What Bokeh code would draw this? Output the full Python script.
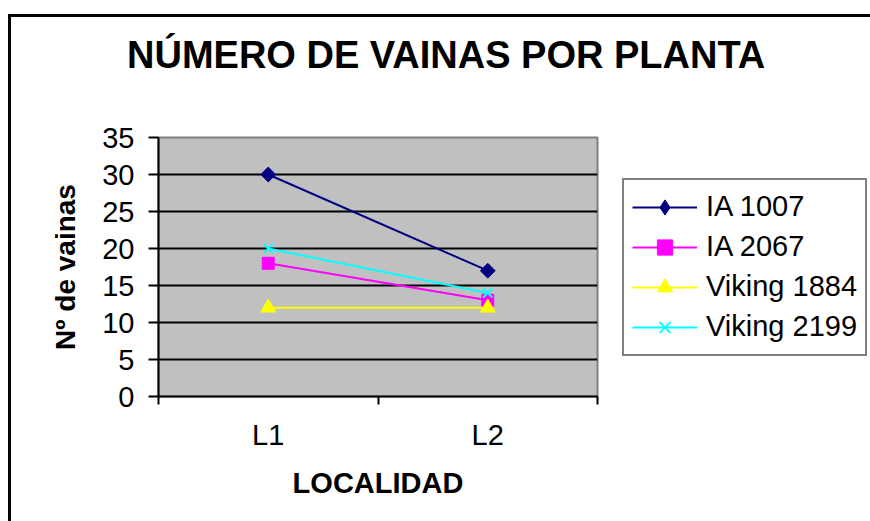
from bokeh.plotting import figure
from bokeh.layouts import column
from bokeh.models import (FixedTicker, Legend, LegendItem, Range1d, ColumnDataSource,
                          InlineStyleSheet, Div)
from bokeh.embed import file_html
from bokeh.resources import INLINE

# Data
categories = ["L1", "L2"]
ia_1007 = [30, 17]
ia_2067 = [18, 13]
viking_1884 = [12, 12]
viking_2199 = [20, 14]
series_names = ["IA 1007", "IA 2067", "Viking 1884", "Viking 2199"]
y_ticks = [0, 5, 10, 15, 20, 25, 30, 35]
title_text = "NÚMERO DE VAINAS POR PLANTA"

FONT = "Liberation Sans"

# category centres on a numeric axis, category boundaries at integers
x_pos = [i + 0.5 for i in range(len(categories))]
boundaries = list(range(len(categories) + 1))

# chart title as a heading strip above the plot
header = Div(
    text=(f'<div style="position:absolute; left:127px; top:36px; white-space:nowrap; '
          f'font-family:\'{FONT}\'; font-size:38px; font-weight:bold; line-height:1; '
          f'color:black;">{title_text}</div>'),
    width=870, height=80, margin=0)

p = figure(frame_width=439, frame_height=259,
           min_border_left=158, min_border_right=273,
           min_border_top=57, min_border_bottom=125,
           x_range=Range1d(0, len(categories)), y_range=Range1d(0, 35),
           output_backend="svg", toolbar_location=None, margin=0)

p.background_fill_color = "#C0C0C0"
p.border_fill_color = "white"
p.outline_line_color = "#808080"
p.outline_line_width = 2

# y axis
p.yaxis.ticker = FixedTicker(ticks=y_ticks)
p.yaxis.axis_line_color = "black"
p.yaxis.axis_line_width = 2
p.yaxis.major_tick_line_color = "black"
p.yaxis.major_tick_line_width = 2
p.yaxis.major_tick_out = 10
p.yaxis.major_tick_in = 0
p.yaxis.minor_tick_line_color = None
p.yaxis.major_label_standoff = 14
p.yaxis.major_label_text_font = FONT
p.yaxis.major_label_text_font_size = "29px"
p.yaxis.major_label_text_color = "black"
p.yaxis.axis_label = "Nº de vainas"
p.yaxis.axis_label_text_font = FONT
p.yaxis.axis_label_text_font_size = "28px"
p.yaxis.axis_label_text_font_style = "bold"
p.yaxis.axis_label_text_color = "black"
p.yaxis.axis_label_standoff = 18

# x axis: labels at category centres, tick marks at the boundaries
p.xaxis.ticker = FixedTicker(ticks=x_pos, minor_ticks=boundaries)
p.xaxis.major_label_overrides = {x: c for x, c in zip(x_pos, categories)}
p.xaxis.axis_line_color = "black"
p.xaxis.axis_line_width = 2
p.xaxis.major_tick_line_color = None
p.xaxis.major_tick_out = 0
p.xaxis.major_tick_in = 0
p.xaxis.minor_tick_line_color = "black"
p.xaxis.minor_tick_line_width = 2
p.xaxis.minor_tick_out = 8
p.xaxis.minor_tick_in = 0
p.xaxis.major_label_standoff = 14
p.xaxis.major_label_text_font = FONT
p.xaxis.major_label_text_font_size = "29px"
p.xaxis.major_label_text_color = "black"
p.xaxis.axis_label = "LOCALIDAD"
p.xaxis.axis_label_text_font = FONT
p.xaxis.axis_label_text_font_size = "29px"
p.xaxis.axis_label_text_font_style = "bold"
p.xaxis.axis_label_text_color = "black"
p.xaxis.axis_label_standoff = 13

p.xgrid.grid_line_color = None
p.ygrid.ticker = FixedTicker(ticks=y_ticks[1:-1])
p.ygrid.grid_line_color = "black"
p.ygrid.grid_line_width = 2

# series: chart marker, legend marker, colour
styles = [
    dict(color="#000080", marker="square", angle=0.7853981634, size=10.5, key="diamond", key_size=16),
    dict(color="#FF00FF", marker="square", angle=0.0, size=12, key="square", key_size=12),
    dict(color="#FFFF00", marker="triangle", angle=0.0, size=15, key="triangle", key_size=15),
    dict(color="#00FFFF", marker="x", angle=0.0, size=13, key="x", key_size=11),
]
values = [ia_1007, ia_2067, viking_1884, viking_2199]

items = []
for name, vals, st in zip(series_names, values, styles):
    src = ColumnDataSource(dict(x=x_pos, y=vals))
    lw = 2 if st["marker"] == "x" else 1
    ln = p.line("x", "y", source=src, line_color=st["color"], line_width=2)
    p.scatter("x", "y", source=src, marker=st["marker"], size=st["size"],
              angle=st["angle"], fill_color=st["color"], line_color=st["color"],
              line_width=lw)
    # key symbol shown in the legend only
    key = p.scatter("x", "y", source=src, marker=st["key"], size=st["key_size"],
                    fill_color=st["color"], line_color=st["color"], line_width=lw,
                    visible=False)
    items.append(LegendItem(label=name, renderers=[ln, key]))

legend = Legend(items=items, location="center_left")
legend.border_line_color = "black"
legend.border_line_width = 2
legend.background_fill_color = "white"
legend.background_fill_alpha = 1
legend.inactive_fill_alpha = 0
legend.label_text_font = FONT
legend.label_text_font_size = "29px"
legend.label_text_color = "black"
legend.glyph_width = 65
legend.glyph_height = 38
legend.label_height = 38
legend.label_standoff = 9
legend.spacing = 2
legend.padding = 8
legend.margin = 25
p.add_layout(legend, "right")

# chart-area border along the left and top edges of the page
frame_css = InlineStyleSheet(css="""
:host { position: relative; }
:host::after {
  content: "";
  position: absolute;
  left: 8px; top: 14px; right: 0; bottom: 0;
  border-left: 3px solid black;
  border-top: 3px solid black;
  pointer-events: none;
}
""")

layout = column(header, p, spacing=0, margin=0, stylesheets=[frame_css])

open("out.html", "w").write(file_html(layout, INLINE))
